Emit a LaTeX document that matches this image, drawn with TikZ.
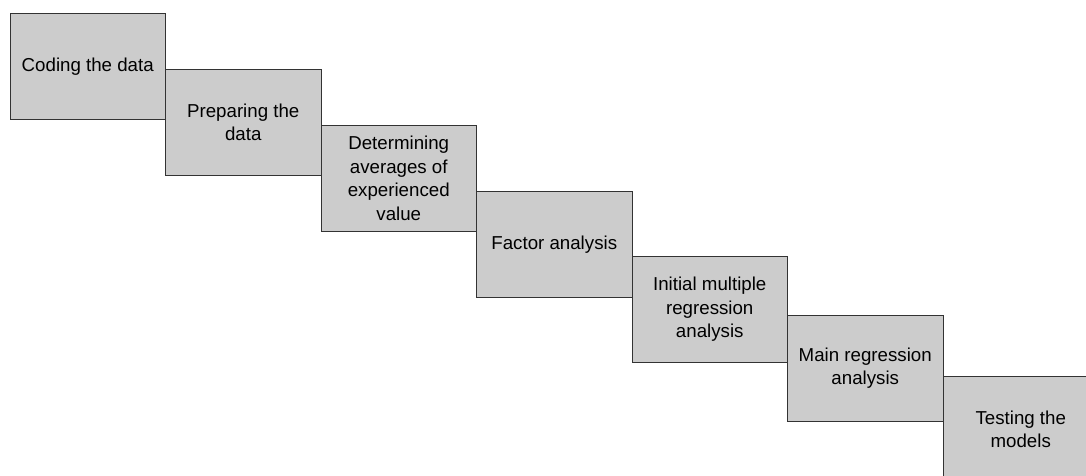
\documentclass[tikz,border=0pt]{standalone}
\usepackage{fontspec}
\setmainfont{Liberation Sans}
\usetikzlibrary{positioning}
\definecolor{stepgray}{HTML}{CCCCCC}
\definecolor{stepline}{HTML}{333333}
\tikzset{
  stepbox/.style={draw=stepline, fill=stepgray, line width=0.9pt, shape=rectangle,
    minimum width=155.5pt, minimum height=106.5pt, inner sep=0pt, outer sep=0pt,
    align=center, font=\fontsize{18.7}{23.4}\selectfont},
}

\begin{document}
\begin{tikzpicture}[x=1pt, y=-1pt]
  \clip (0,0) rectangle (1086,476);
  \node[stepbox, anchor=north west] (coding) at (10,13) {Coding the data};
  \node[stepbox, below right=56pt and 0pt of coding.north east] (preparing) {Preparing the\\data};
  \node[stepbox, below right=56pt and 0pt of preparing.north east] (averages) {Determining\\averages of\\experienced\\value};
  \node[stepbox, below right=66pt and 0pt of averages.north east] (factor) {Factor analysis};
  \node[stepbox, below right=65pt and 0pt of factor.north east] (initial) {Initial multiple\\regression\\analysis};
  \node[stepbox, below right=59pt and 0pt of initial.north east] (mainreg) {Main regression\\analysis};
  \node[stepbox, below right=61pt and 0pt of mainreg.north east] (testing) {Testing the\\models};
\end{tikzpicture}
\end{document}
